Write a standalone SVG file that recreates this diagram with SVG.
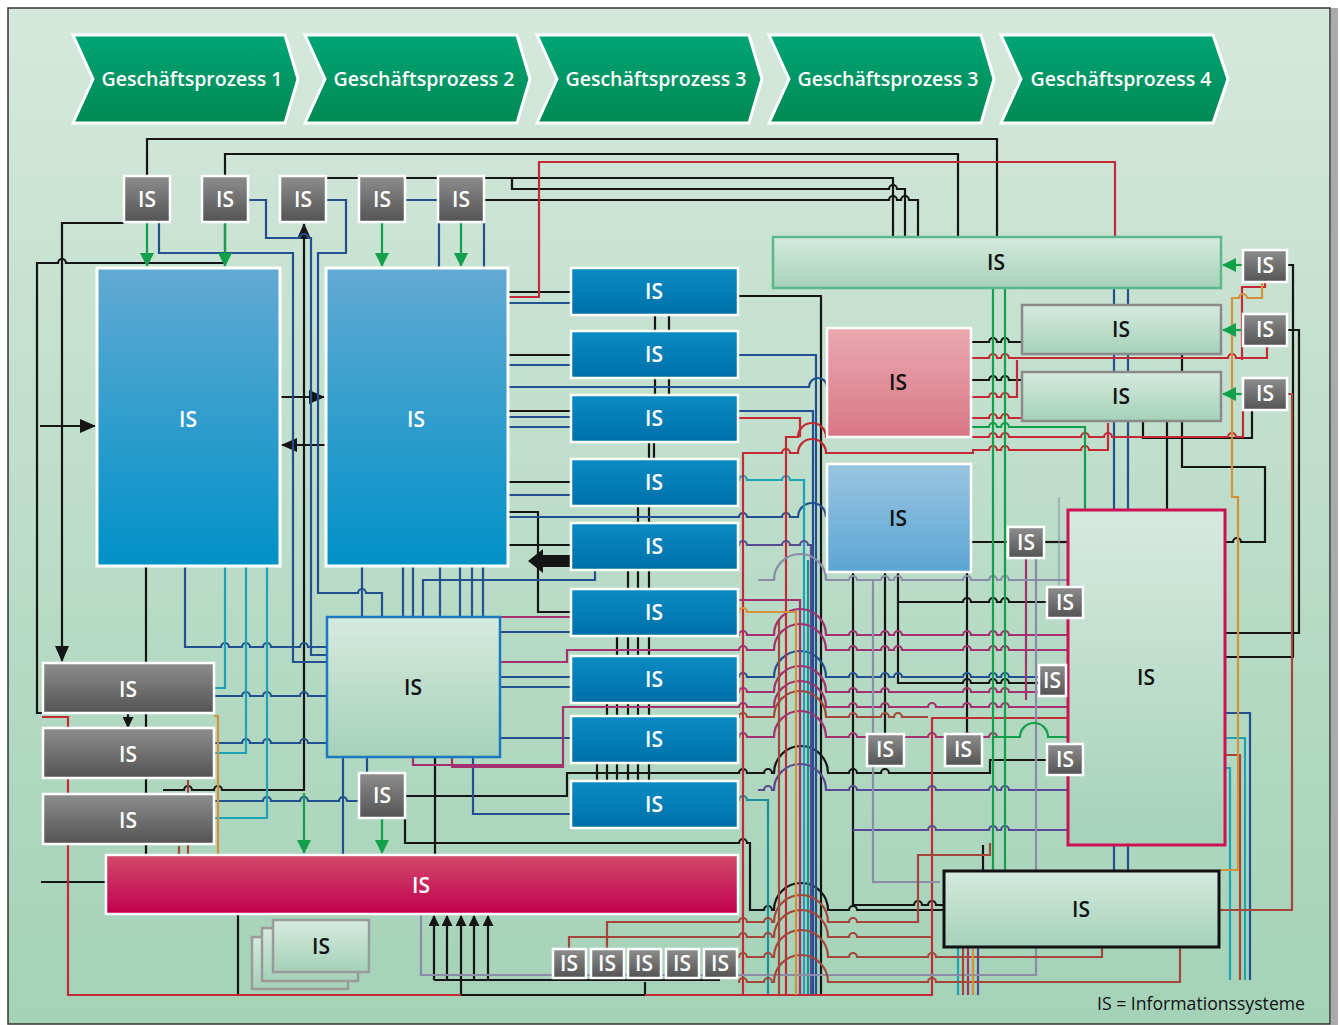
<svg xmlns="http://www.w3.org/2000/svg" width="1340" height="1025" viewBox="0 0 1340 1025">
<style>
.t{font-family:"Open Sans","Liberation Sans",sans-serif;font-weight:600;font-size:21px;text-anchor:middle}
.w{fill:#fff}.d{fill:#111}
.ct{font-family:"Open Sans","Liberation Sans",sans-serif;font-weight:600;font-size:20px;fill:#fff;text-anchor:middle}
.chev{fill:url(#gChev);stroke:#fff;stroke-width:3}
.sm{fill:url(#gGray);stroke:#fff;stroke-width:2.5}
.stk{fill:url(#gStack);stroke:#fff;stroke-width:2.5}
#connectors path{fill:none;stroke-width:2.2}
.k{stroke:#151515}.b{stroke:#23508e}.c{stroke:#1ea2b6}.tl{stroke:#1b8f9a}.r{stroke:#c42a36}.br{stroke:#a4473a}
.m{stroke:#a3316f}.p{stroke:#574a92}.gy{stroke:#8a8ca8}.gn{stroke:#12a04a}.o{stroke:#d3913a}
</style>
<defs>
<linearGradient id="gBg" x1="0" y1="0" x2="0" y2="1"><stop offset="0" stop-color="#d5e8dc"/><stop offset="1" stop-color="#a4d2b7"/></linearGradient>
<linearGradient id="gChev" x1="0" y1="0" x2="0" y2="1"><stop offset="0" stop-color="#00a475"/><stop offset="1" stop-color="#008953"/></linearGradient>
<linearGradient id="gGray" x1="0" y1="0" x2="0" y2="1"><stop offset="0" stop-color="#8e8e8e"/><stop offset="1" stop-color="#535353"/></linearGradient>
<linearGradient id="gBlue" x1="0" y1="0" x2="0" y2="1"><stop offset="0" stop-color="#62aad3"/><stop offset="1" stop-color="#0091c7"/></linearGradient>
<linearGradient id="gStack" x1="0" y1="0" x2="0" y2="1"><stop offset="0" stop-color="#0a8cc4"/><stop offset="1" stop-color="#006fa8"/></linearGradient>
<linearGradient id="gPink" x1="0" y1="0" x2="0" y2="1"><stop offset="0" stop-color="#eaa9af"/><stop offset="1" stop-color="#d87786"/></linearGradient>
<linearGradient id="gLt" x1="0" y1="0" x2="0" y2="1"><stop offset="0" stop-color="#9ac5e2"/><stop offset="1" stop-color="#5ba6d3"/></linearGradient>
<linearGradient id="gMint" x1="0" y1="0" x2="0" y2="1"><stop offset="0" stop-color="#d6eadf"/><stop offset="1" stop-color="#a5d1b9"/></linearGradient>
<linearGradient id="gCrim" x1="0" y1="0" x2="0" y2="1"><stop offset="0" stop-color="#d24a6c"/><stop offset="1" stop-color="#c0004c"/></linearGradient>
<marker id="ak" viewBox="0 0 16 14" refX="15" refY="7" markerWidth="16" markerHeight="14" markerUnits="userSpaceOnUse" orient="auto"><path d="M0,0 L16,7 L0,14 Z" fill="#151515"/></marker>
<marker id="aks" viewBox="0 0 10 10" refX="9" refY="5" markerWidth="11" markerHeight="11" markerUnits="userSpaceOnUse" orient="auto"><path d="M0,0 L10,5 L0,10 Z" fill="#151515"/></marker>
<marker id="ag" viewBox="0 0 14 14" refX="13" refY="7" markerWidth="15" markerHeight="14" markerUnits="userSpaceOnUse" orient="auto"><path d="M0,0 L14,7 L0,14 Z" fill="#12a04a"/></marker>
</defs>

<rect x="8" y="8" width="1322" height="1016" fill="url(#gBg)" stroke="#333" stroke-width="1.5"/>
<rect x="1331" y="8" width="7" height="1017" fill="#a9abab"/>

<g id="process-chain">
<g id="gp1"><polygon class="chev" points="73,35 285,35 298,79 285,123 73,123 93,79"/><text class="ct" x="192" y="86" textLength="181" lengthAdjust="spacingAndGlyphs">Geschäftsprozess 1</text></g>
<g id="gp2"><polygon class="chev" points="305,35 517,35 530,79 517,123 305,123 325,79"/><text class="ct" x="424" y="86" textLength="181" lengthAdjust="spacingAndGlyphs">Geschäftsprozess 2</text></g>
<g id="gp3a"><polygon class="chev" points="537,35 749,35 762,79 749,123 537,123 557,79"/><text class="ct" x="656" y="86" textLength="181" lengthAdjust="spacingAndGlyphs">Geschäftsprozess 3</text></g>
<g id="gp3b"><polygon class="chev" points="769,35 981,35 994,79 981,123 769,123 789,79"/><text class="ct" x="888" y="86" textLength="181" lengthAdjust="spacingAndGlyphs">Geschäftsprozess 3</text></g>
<g id="gp4"><polygon class="chev" points="1001,35 1213,35 1228,79 1213,123 1001,123 1021,79"/><text class="ct" x="1121" y="86" textLength="181" lengthAdjust="spacingAndGlyphs">Geschäftsprozess 4</text></g>
</g>

<g id="connectors">
<path class="k" d="M147,176 V139 H997 V237"/>
<path class="k" d="M225,176 V154 H958 V237"/>
<path class="k" d="M326,178 H893 V237"/>
<path class="k" d="M512,178 V189 H889 a4,4 0 0 1 8,0 H905 V237"/>
<path class="k" d="M484,200 H889 a4,4 0 0 1 8,0 H901 a4,4 0 0 1 8,0 H918 V237"/>
<path class="k" d="M124,223 H62 V661" marker-end="url(#ak)"/>
<path class="k" d="M225,222 V263 H66 a4,4 0 0 0 -8,0 H37 V713 H43"/>
<path class="k" d="M40,426 H95" marker-end="url(#ak)"/>
<path class="k" d="M280,397 H324" marker-end="url(#ak)"/>
<path class="k" d="M326,445 H282" marker-end="url(#ak)"/>
<path class="k" d="M163,790 H184 a4,4 0 0 1 8,0 H214 a4,4 0 0 1 8,0 H304 V224" marker-end="url(#ak)"/>
<path class="k" d="M146,566 V855"/>
<path class="k" d="M128,713 V727" marker-end="url(#aks)"/>
<path class="k" d="M41,882 H106"/>
<path class="k" d="M238,914 V995"/>
<path class="k" d="M461,980 V995 H645 V982"/>
<path class="k" d="M434,980 H720"/>
<path class="k" d="M434,980 V916" marker-end="url(#aks)"/>
<path class="k" d="M447,980 V916" marker-end="url(#aks)"/>
<path class="k" d="M461,980 V916" marker-end="url(#aks)"/>
<path class="k" d="M474,980 V916" marker-end="url(#aks)"/>
<path class="k" d="M488,980 V916" marker-end="url(#aks)"/>
<path class="k" d="M435,757 V855"/>
<path class="k" d="M508,292 H571"/>
<path class="k" d="M508,355 H571"/>
<path class="k" d="M508,411 H571"/>
<path class="k" d="M508,482 H571"/>
<path class="k" d="M508,512 H538 V612 H571"/>
<path class="k" d="M508,545 H571"/>
<path class="k" d="M738,296 H821 V995"/>
<path class="k" d="M405,796 H567 V773 H739 a4,4 0 0 1 8,0 H764 a4,4 0 0 1 8,0 H774 a27,27 0 0 1 54,0 H849 a4,4 0 0 1 8,0 H881 a4,4 0 0 1 8,0 H990 V760 H1047"/>
<path class="k" d="M405,818 V843 H739 a4,4 0 0 1 8,0 H750 V910 H764 a4,4 0 0 1 8,0 H774 a27,27 0 0 1 54,0 H849 a4,4 0 0 1 8,0 H943"/>
<path class="k" d="M853,572 V905 H914 a4,4 0 0 1 8,0 H928 a4,4 0 0 1 8,0 H943"/>
<path class="k" d="M885,572 V734"/>
<path class="k" d="M898,572 V683 H963 a4,4 0 0 1 8,0 H989 a4,4 0 0 1 8,0 H1001 a4,4 0 0 1 8,0 H1039"/>
<path class="k" d="M898,602 H963 a4,4 0 0 1 8,0 H989 a4,4 0 0 1 8,0 H1001 a4,4 0 0 1 8,0 H1047"/>
<path class="k" d="M967,572 V734"/>
<path class="k" d="M971,542 H1008"/>
<path class="k" d="M1044,542 H1068"/>
<path class="k" d="M971,342 H989 a4,4 0 0 1 8,0 H1001 a4,4 0 0 1 8,0 H1022"/>
<path class="k" d="M971,380 H989 a4,4 0 0 1 8,0 H1001 a4,4 0 0 1 8,0 H1022"/>
<path class="k" d="M1287,265 H1293 V657 H1225"/>
<path class="k" d="M1287,330 H1299 V633 H1225"/>
<path class="k" d="M1182,354 V372"/>
<path class="k" d="M1182,421 V467 H1265 V542 H1241 a4,4 0 0 0 -8,0 H1225"/>
<path class="k" d="M1143,421 V438 H1252 V410"/>
<path class="k" d="M1167,421 V510"/>
<path class="k" d="M983,845 V871"/>
<path class="k" stroke-width="2.6" d="M655,315 V331 M669,315 V331 M655,378 V395 M669,378 V395 M649,442 V459 M654,442 V459 M638,506 V523 M649,506 V523 M628,570 V589 M638,570 V589 M649,570 V589 M617,636 V656 M628,636 V656 M638,636 V656 M649,636 V656 M607,703 V716 M617,703 V716 M628,703 V716 M638,703 V716 M649,703 V716 M597,763 V781 M607,763 V781 M617,763 V781 M628,763 V781 M638,763 V781 M649,763 V781"/>
<path class="b" d="M248,200 H266 V238 H300 a4,4 0 0 1 8,0 H311 V655 H327"/>
<path class="b" d="M159,222 V253 H293 V662 H327"/>
<path class="b" d="M326,200 H346 V253 H318 V593 H358 a4,4 0 0 1 8,0 H382 V617"/>
<path class="b" d="M405,200 H438"/>
<path class="b" d="M439,222 V268"/>
<path class="b" d="M484,222 V268"/>
<path class="b" d="M185,566 V647 H221 a4,4 0 0 1 8,0 H242 a4,4 0 0 1 8,0 H263 a4,4 0 0 1 8,0 H300 a4,4 0 0 1 8,0 H327"/>
<path class="b" d="M214,696 H242 a4,4 0 0 1 8,0 H263 a4,4 0 0 1 8,0 H300 a4,4 0 0 1 8,0 H327"/>
<path class="b" d="M214,743 H242 a4,4 0 0 1 8,0 H263 a4,4 0 0 1 8,0 H300 a4,4 0 0 1 8,0 H327"/>
<path class="b" d="M214,801 H263 a4,4 0 0 1 8,0 H300 a4,4 0 0 1 8,0 H339 a4,4 0 0 1 8,0 H359"/>
<path class="b" d="M362,566 V617 M403,566 V617 M413,566 V617 M440,566 V617 M460,566 V617 M472,566 V617 M483,566 V617"/>
<path class="b" d="M423,617 V580 H595 V570"/>
<path class="b" d="M343,757 V855"/>
<path class="b" d="M367,757 V773"/>
<path class="b" d="M473,757 V814 H571"/>
<path class="b" d="M508,303 H571"/>
<path class="b" d="M508,365 H571"/>
<path class="b" d="M508,387 H809 a9,9 0 0 1 18,0"/>
<path class="b" d="M508,417 H571"/>
<path class="b" d="M508,427 H571"/>
<path class="b" d="M508,495 H571"/>
<path class="b" d="M508,517 H739 a4,4 0 0 1 8,0 H782 a4,4 0 0 1 8,0 H798 a14,14 0 0 1 28,0"/>
<path class="b" d="M501,632 H571"/>
<path class="b" d="M501,677 H571"/>
<path class="b" d="M501,687 H571"/>
<path class="b" d="M501,738 H571"/>
<path class="b" d="M738,355 H816 V995"/>
<path class="b" d="M738,411 H813 V995"/>
<path class="b" d="M738,677 H739 a4,4 0 0 1 8,0 H774 a26,26 0 0 1 52,0 H849 a4,4 0 0 1 8,0 H881 a4,4 0 0 1 8,0 H894 a4,4 0 0 1 8,0 H963 a4,4 0 0 1 8,0 H989 a4,4 0 0 1 8,0 H1001 a4,4 0 0 1 8,0 H1068"/>
<path class="b" d="M1114,288 V305 M1128,288 V305 M1114,354 V372 M1128,354 V372 M1114,421 V510 M1128,421 V510 M1114,845 V871 M1128,845 V871"/>
<path class="b" d="M1225,713 H1250 V980"/>
<path class="c" d="M225,566 V688 H214"/>
<path class="c" d="M246,566 V753 H214"/>
<path class="c" d="M267,566 V818 H214"/>
<path class="c" d="M738,480 H739 a4,4 0 0 1 8,0 H782 a4,4 0 0 1 8,0 H804 V995"/>
<path class="tl" d="M738,800 H739 a4,4 0 0 1 8,0 H768 V995"/>
<path class="tl" d="M808,560 V995"/>
<path class="c" d="M1225,738 H1245 V980"/>
<path class="c" d="M1225,768 H1230 V980"/>
<path class="c" d="M958,947 V995"/>
<path class="r" d="M508,297 H539 V162 H1115 V237"/>
<path class="r" d="M743,995 V453 H782 a4,4 0 0 1 8,0 H798 a14,14 0 0 1 28,0 H973 V450 H989 a4,4 0 0 1 8,0 H1001 a4,4 0 0 1 8,0 H1081 a4,4 0 0 1 8,0 H1108 V423"/>
<path class="r" d="M786,995 V437 H798 a14,14 0 0 1 28,0 H989 a4,4 0 0 1 8,0 H1001 a4,4 0 0 1 8,0 H1081 a4,4 0 0 1 8,0 H1104 a4,4 0 0 1 8,0 H1228 a4,4 0 0 1 8,0 H1243 V410"/>
<path class="r" d="M738,418 H800 V437"/>
<path class="r" stroke-width="3.6" d="M971,358 H989 a4,4 0 0 1 8,0 H1001 a4,4 0 0 1 8,0 H1228 a4,4 0 0 1 8,0 H1267 V346"/>
<path class="r" d="M971,397 H989 a4,4 0 0 1 8,0 H1001 a4,4 0 0 1 8,0 H1017 V360"/>
<path class="r" d="M971,418 H989 a4,4 0 0 1 8,0 H1001 a4,4 0 0 1 8,0 H1022"/>
<path class="r" d="M1265,282 V287 H1242 V360"/>
<path class="r" d="M42,717 H68 V995 H461"/>
<path class="r" d="M645,995 H932 V718 H1068"/>
<path class="br" d="M1287,394 H1292 V910 H1219"/>
<path class="m" d="M501,617 H571"/>
<path class="m" d="M501,662 H567 V650 H739 a4,4 0 0 1 8,0 H774 a26,26 0 0 1 52,0 H849 a4,4 0 0 1 8,0 H881 a4,4 0 0 1 8,0 H894 a4,4 0 0 1 8,0 H963 a4,4 0 0 1 8,0 H989 a4,4 0 0 1 8,0 H1001 a4,4 0 0 1 8,0 H1068"/>
<path class="m" d="M738,635 H739 a4,4 0 0 1 8,0 H774 a26,26 0 0 1 52,0 H849 a4,4 0 0 1 8,0 H881 a4,4 0 0 1 8,0 H894 a4,4 0 0 1 8,0 H963 a4,4 0 0 1 8,0 H989 a4,4 0 0 1 8,0 H1001 a4,4 0 0 1 8,0 H1068"/>
<path class="m" d="M738,692 H739 a4,4 0 0 1 8,0 H774 a26,26 0 0 1 52,0 H849 a4,4 0 0 1 8,0 H881 a4,4 0 0 1 8,0 H963 a4,4 0 0 1 8,0 H989 a4,4 0 0 1 8,0 H1001 a4,4 0 0 1 8,0 H1068"/>
<path class="m" stroke-width="3.6" d="M452,757 V767 H563 V707 H739 a4,4 0 0 1 8,0 H774 a26,26 0 0 1 52,0 H849 a4,4 0 0 1 8,0 H881 a4,4 0 0 1 8,0 H928 a4,4 0 0 1 8,0 H963 a4,4 0 0 1 8,0 H989 a4,4 0 0 1 8,0 H1001 a4,4 0 0 1 8,0 H1068"/>
<path class="m" d="M413,757 V765 H563"/>
<path class="m" d="M738,737 H739 a4,4 0 0 1 8,0 H774 a26,26 0 0 1 52,0 H849 a4,4 0 0 1 8,0 H928 a4,4 0 0 1 8,0 H963 a4,4 0 0 1 8,0 H989 a4,4 0 0 1 8,0"/>
<path class="m" d="M738,600 H800 V995"/>
<path class="m" d="M1026,558 V700"/>
<path class="m" d="M968,947 V995"/>
<path class="p" d="M738,545 H739 a4,4 0 0 1 8,0 H782 a4,4 0 0 1 8,0 H800 a4,4 0 0 1 8,0 H811 V995"/>
<path class="p" d="M758,790 H764 a4,4 0 0 1 8,0 H774 a26,26 0 0 1 52,0 H849 a4,4 0 0 1 8,0 H928 a4,4 0 0 1 8,0 H989 a4,4 0 0 1 8,0 H1001 a4,4 0 0 1 8,0 H1068"/>
<path class="p" d="M853,830 H928 a4,4 0 0 1 8,0 H989 a4,4 0 0 1 8,0 H1001 a4,4 0 0 1 8,0 H1068"/>
<path class="p" d="M978,947 V995"/>
<path class="gy" d="M758,580 H774 a26,26 0 0 1 52,0 H849 a4,4 0 0 1 8,0 H881 a4,4 0 0 1 8,0 H894 a4,4 0 0 1 8,0 H963 a4,4 0 0 1 8,0 H989 a4,4 0 0 1 8,0 H1001 a4,4 0 0 1 8,0 H1068"/>
<path class="gy" d="M873,580 V882 H940"/>
<path class="gy" d="M421,914 V975 H1036 V558"/>
<path class="gy" stroke-opacity="0.5" d="M1059,497 V590"/>
<path class="br" d="M607,949 V922 H739 a4,4 0 0 1 8,0 H764 a4,4 0 0 1 8,0 H774 a27,27 0 0 1 54,0 H849 a4,4 0 0 1 8,0 H918 V855 H990 V843"/>
<path class="br" d="M569,949 V937 H739 a4,4 0 0 1 8,0 H764 a4,4 0 0 1 8,0 H774 a27,27 0 0 1 54,0 H849 a4,4 0 0 1 8,0 H932"/>
<path class="br" d="M738,957 H739 a4,4 0 0 1 8,0 H764 a4,4 0 0 1 8,0 H774 a27,27 0 0 1 54,0 H849 a4,4 0 0 1 8,0 H928 a4,4 0 0 1 8,0 H1102 V947"/>
<path class="br" d="M738,982 H739 a4,4 0 0 1 8,0 H764 a4,4 0 0 1 8,0 H774 a27,27 0 0 1 54,0 H928 a4,4 0 0 1 8,0 H1180 V947"/>
<path class="br" d="M738,717 H739 a4,4 0 0 1 8,0 H774 a26,26 0 0 1 52,0 H849 a4,4 0 0 1 8,0 H881 a4,4 0 0 1 8,0 H894 a4,4 0 0 1 8,0 H928"/>
<path class="br" d="M779,620 V995"/>
<path class="br" d="M179,846 V855 M188,780 V855"/>
<path class="br" d="M1225,755 H1240 V980"/>
<path class="br" d="M963,947 V995"/>
<path class="o" d="M214,716 H218 V855"/>
<path class="o" d="M738,612 H739 a4,4 0 0 1 8,0 H796 V995"/>
<path class="o" d="M1262,282 V298 H1247 a4,4 0 0 0 -8,0 H1232 V497 H1238 V870 H1219"/>
<path class="o" d="M973,947 V995"/>
<path class="gn" d="M147,222 V266" marker-end="url(#ag)"/>
<path class="gn" d="M225,222 V266" marker-end="url(#ag)"/>
<path class="gn" d="M382,222 V266" marker-end="url(#ag)"/>
<path class="gn" d="M461,222 V266" marker-end="url(#ag)"/>
<path class="gn" d="M304,793 V853" marker-end="url(#ag)"/>
<path class="gn" d="M382,818 V853" marker-end="url(#ag)"/>
<path class="gn" d="M1243,265 H1223" marker-end="url(#ag)"/>
<path class="gn" d="M1243,330 H1223" marker-end="url(#ag)"/>
<path class="gn" d="M1243,394 H1223" marker-end="url(#ag)"/>
<path class="gn" d="M993,288 V871"/>
<path class="gn" d="M1005,288 V871"/>
<path class="gn" d="M971,427 H989 a4,4 0 0 1 8,0 H1001 a4,4 0 0 1 8,0 H1085 V510"/>
<path class="gn" d="M993,737 H1020 a14,14 0 0 1 28,0 H1068"/>
<polygon points="528,561 543,549 543,555 571,555 571,567 543,567 543,573" fill="#151515"/>
</g>

<g id="nodes">
<g id="is-top1"><rect class="sm" x="124" y="176" width="46" height="46"/><text class="t w" x="147" y="207">IS</text></g>
<g id="is-top2"><rect class="sm" x="202" y="176" width="46" height="46"/><text class="t w" x="225" y="207">IS</text></g>
<g id="is-top3"><rect class="sm" x="280" y="176" width="46" height="46"/><text class="t w" x="303" y="207">IS</text></g>
<g id="is-top4"><rect class="sm" x="359" y="176" width="46" height="46"/><text class="t w" x="382" y="207">IS</text></g>
<g id="is-top5"><rect class="sm" x="438" y="176" width="46" height="46"/><text class="t w" x="461" y="207">IS</text></g>

<g id="is-a"><rect x="97" y="268" width="183" height="298" fill="url(#gBlue)" stroke="#fff" stroke-width="3"/><text class="t w" x="188" y="427">IS</text></g>
<g id="is-b"><rect x="326" y="268" width="182" height="298" fill="url(#gBlue)" stroke="#fff" stroke-width="3"/><text class="t w" x="416" y="427">IS</text></g>

<g id="is-s1"><rect class="stk" x="571" y="268" width="167" height="47"/><text class="t w" x="654" y="299">IS</text></g>
<g id="is-s2"><rect class="stk" x="571" y="331" width="167" height="47"/><text class="t w" x="654" y="362">IS</text></g>
<g id="is-s3"><rect class="stk" x="571" y="395" width="167" height="47"/><text class="t w" x="654" y="426">IS</text></g>
<g id="is-s4"><rect class="stk" x="571" y="459" width="167" height="47"/><text class="t w" x="654" y="490">IS</text></g>
<g id="is-s5"><rect class="stk" x="571" y="523" width="167" height="47"/><text class="t w" x="654" y="554">IS</text></g>
<g id="is-s6"><rect class="stk" x="571" y="589" width="167" height="47"/><text class="t w" x="654" y="620">IS</text></g>
<g id="is-s7"><rect class="stk" x="571" y="656" width="167" height="47"/><text class="t w" x="654" y="687">IS</text></g>
<g id="is-s8"><rect class="stk" x="571" y="716" width="167" height="47"/><text class="t w" x="654" y="747">IS</text></g>
<g id="is-s9"><rect class="stk" x="571" y="781" width="167" height="47"/><text class="t w" x="654" y="812">IS</text></g>

<g id="is-bar"><rect x="773" y="237" width="448" height="51" fill="url(#gMint)" stroke="#5cb88a" stroke-width="2.5"/><text class="t d" x="996" y="270">IS</text></g>
<g id="is-g1"><rect x="1022" y="305" width="199" height="49" fill="url(#gMint)" stroke="#8a8a8a" stroke-width="2.5"/><text class="t d" x="1121" y="337">IS</text></g>
<g id="is-g2"><rect x="1022" y="372" width="199" height="49" fill="url(#gMint)" stroke="#8a8a8a" stroke-width="2.5"/><text class="t d" x="1121" y="404">IS</text></g>
<g id="is-r1"><rect class="sm" x="1243" y="250" width="44" height="32"/><text class="t w" x="1265" y="273">IS</text></g>
<g id="is-r2"><rect class="sm" x="1243" y="314" width="44" height="32"/><text class="t w" x="1265" y="337">IS</text></g>
<g id="is-r3"><rect class="sm" x="1243" y="378" width="44" height="32"/><text class="t w" x="1265" y="401">IS</text></g>

<g id="is-pink"><rect x="827" y="328" width="144" height="109" fill="url(#gPink)" stroke="#fff" stroke-width="2.5"/><text class="t d" x="898" y="390">IS</text></g>
<g id="is-ltblue"><rect x="827" y="464" width="144" height="108" fill="url(#gLt)" stroke="#fff" stroke-width="2.5"/><text class="t d" x="898" y="526">IS</text></g>

<g id="is-big"><rect x="1068" y="510" width="157" height="335" fill="url(#gMint)" stroke="#cc1155" stroke-width="3"/><text class="t d" x="1146" y="685">IS</text></g>
<g id="is-m1"><rect class="sm" x="1008" y="527" width="36" height="31"/><text class="t w" x="1026" y="550">IS</text></g>
<g id="is-m2"><rect class="sm" x="1047" y="587" width="36" height="31"/><text class="t w" x="1065" y="610">IS</text></g>
<g id="is-m3"><rect class="sm" x="1039" y="665" width="27" height="31"/><text class="t w" x="1052" y="688">IS</text></g>
<g id="is-m4"><rect class="sm" x="1047" y="744" width="36" height="31"/><text class="t w" x="1065" y="767">IS</text></g>
<g id="is-m5"><rect class="sm" x="867" y="734" width="37" height="32"/><text class="t w" x="885" y="757">IS</text></g>
<g id="is-m6"><rect class="sm" x="945" y="734" width="37" height="32"/><text class="t w" x="963" y="757">IS</text></g>

<g id="is-br"><rect x="944" y="871" width="275" height="76" fill="url(#gMint)" stroke="#111" stroke-width="3"/><text class="t d" x="1081" y="917">IS</text></g>

<g id="is-l1"><rect class="sm" x="43" y="663" width="171" height="50"/><text class="t w" x="128" y="697">IS</text></g>
<g id="is-l2"><rect class="sm" x="43" y="728" width="171" height="50"/><text class="t w" x="128" y="762">IS</text></g>
<g id="is-l3"><rect class="sm" x="43" y="794" width="171" height="50"/><text class="t w" x="128" y="828">IS</text></g>

<g id="is-mid"><rect x="327" y="617" width="173" height="140" fill="url(#gMint)" stroke="#1a78c0" stroke-width="2.5"/><text class="t d" x="413" y="695">IS</text></g>
<g id="is-ms"><rect class="sm" x="359" y="773" width="46" height="45"/><text class="t w" x="382" y="803">IS</text></g>

<g id="is-crimson"><rect x="106" y="855" width="632" height="59" fill="url(#gCrim)" stroke="#fff" stroke-width="2.5"/><text class="t w" x="421" y="893">IS</text></g>

<g id="is-stack">
<rect x="252" y="937" width="96" height="52" fill="url(#gMint)" stroke="#9a9a9a" stroke-width="2.5"/>
<rect x="262" y="928" width="96" height="53" fill="url(#gMint)" stroke="#9a9a9a" stroke-width="2.5"/>
<rect x="273" y="920" width="96" height="52" fill="url(#gMint)" stroke="#9a9a9a" stroke-width="2.5"/>
<text class="t d" x="321" y="954">IS</text></g>

<g id="is-b1"><rect class="sm" x="553" y="949" width="33" height="29"/><text class="t w" x="569" y="971">IS</text></g>
<g id="is-b2"><rect class="sm" x="591" y="949" width="33" height="29"/><text class="t w" x="607" y="971">IS</text></g>
<g id="is-b3"><rect class="sm" x="628" y="949" width="33" height="29"/><text class="t w" x="644" y="971">IS</text></g>
<g id="is-b4"><rect class="sm" x="666" y="949" width="33" height="29"/><text class="t w" x="682" y="971">IS</text></g>
<g id="is-b5"><rect class="sm" x="704" y="949" width="33" height="29"/><text class="t w" x="720" y="971">IS</text></g>
</g>

<text x="1201" y="1010" font-family="Open Sans, Liberation Sans, sans-serif" font-size="19" fill="#111" text-anchor="middle" textLength="208" lengthAdjust="spacingAndGlyphs">IS = Informationssysteme</text>
</svg>
